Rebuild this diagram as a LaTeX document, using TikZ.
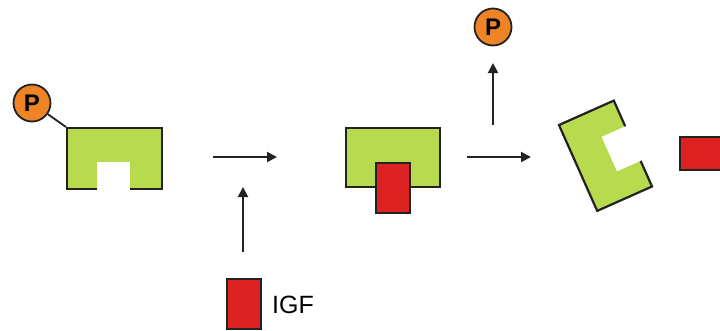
\documentclass[tikz,border=0pt]{standalone}
\usepackage{fontspec}
\setmainfont{Liberation Sans}
\usetikzlibrary{arrows.meta}
\definecolor{limefill}{HTML}{B8DA4F}
\definecolor{redfill}{HTML}{DD2222}
\definecolor{orangefill}{HTML}{EE8426}
\definecolor{lineblack}{HTML}{222222}
\begin{document}
\begin{tikzpicture}[x=1pt,y=-1pt,
  greenbox/.style={draw=lineblack, fill=limefill, line width=2pt, inner sep=0pt, minimum width=95pt, minimum height=61pt},
  redbox/.style={draw=lineblack, fill=redfill, line width=1.5pt, inner sep=0pt, minimum width=34pt, minimum height=50pt},
  notch/.style={fill=white, draw=none, inner sep=0pt, minimum width=33pt, minimum height=30pt},
  pcircle/.style={circle, draw=lineblack, fill=orangefill, line width=1.8pt, inner sep=0pt, minimum size=37pt, font=\fontsize{24}{24}\selectfont\bfseries},
  arrowline/.style={draw=lineblack, line width=2pt, -{Triangle[length=10pt,width=10pt]}},
  outline/.style={draw=lineblack, line width=2.2pt, line join=miter}
]
\clip (0,0) rectangle (720,330);
\fill[white] (0,0) rectangle (720,330);

% stage 1
\node[greenbox] (g1) at (114.5,158.5) {};
\node[notch] (n1) at (113.5,177) {};
\node[pcircle] (p1) at (32,103) {P};
\draw[draw=lineblack, line width=1.8pt] (p1) -- (g1.north west);

% arrows stage 1 -> 2
\coordinate (a1s) at (213,157);
\coordinate (a1e) at (277,157);
\draw[arrowline] (a1s) -- (a1e);
\coordinate (v1s) at (243,252);
\coordinate (v1e) at (243,187);
\draw[arrowline] (v1s) -- (v1e);

% IGF
\node[redbox] (igf) at (244,304) {};
\node[anchor=base west, inner sep=0pt, font=\fontsize{25}{25}\selectfont] (igflabel) at (272,313) {IGF};

% stage 2
\node[greenbox, minimum width=94pt, minimum height=59pt] (g2) at (393,157.5) {};
\node[redbox] (r2) at (393,188) {};

% arrows stage 2 -> 3
\coordinate (a2s) at (467,157);
\coordinate (a2e) at (531,157);
\draw[arrowline] (a2s) -- (a2e);
\coordinate (v2s) at (493,125);
\coordinate (v2e) at (493,63);
\draw[arrowline] (v2s) -- (v2e);
\node[pcircle] (p2) at (493,27) {P};

% stage 3: rotated receptor
\begin{scope}[shift={(605.5,155.75)}, rotate=114]
  \fill[limefill] (-47,-30) -- (47,-30) -- (47,30) -- (19,30) -- (19,4)
     -- (-19,4) -- (-19,30) -- (-47,30) -- cycle;
  \draw[outline] (-19,30) -- (-47,30) -- (-47,-30) -- (47,-30) -- (47,30) -- (19,30);
\end{scope}
\node[redbox, minimum width=50pt, minimum height=33pt] (r3) at (705,153.5) {};
\end{tikzpicture}
\end{document}
